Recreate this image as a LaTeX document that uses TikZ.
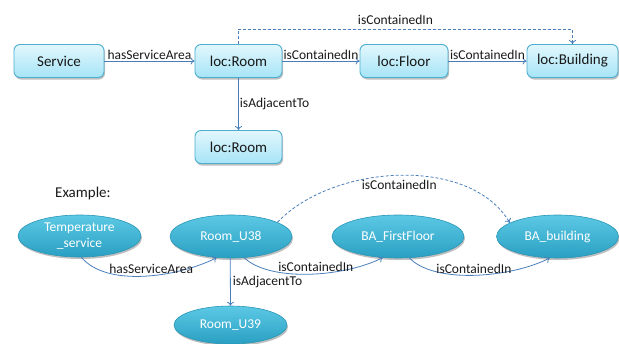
\documentclass[tikz,border=0pt]{standalone}
\usepackage{fontspec}
\setmainfont{Carlito}
\usetikzlibrary{arrows.meta,shapes.geometric,shadows}
\definecolor{linec}{HTML}{4A7EBB}
\definecolor{boxtop}{HTML}{E2F7FD}
\definecolor{boxbot}{HTML}{A6E4F6}
\definecolor{boxedge}{HTML}{4DAECF}
\definecolor{elltop}{HTML}{5CC9E5}
\definecolor{ellbot}{HTML}{2A9FC2}
\definecolor{elledge}{HTML}{2896B6}
\tikzset{
  classbox/.style={rectangle, rounded corners=6pt, draw=boxedge, line width=0.9pt,
    top color=boxtop, bottom color=boxbot, minimum height=33pt, inner sep=0pt,
    font=\fontsize{15}{18}\selectfont, text=black!90,
    drop shadow={shadow xshift=1pt, shadow yshift=-2pt, opacity=0.25, fill=black}},
  inst/.style={ellipse, draw=elledge, line width=0.6pt, top color=elltop, bottom color=ellbot,
    inner sep=0pt, text=white, align=center,
    font=\fontsize{13.5}{16}\selectfont,
    drop shadow={shadow xshift=1pt, shadow yshift=-2pt, opacity=0.25, fill=black}},
  rel/.style={draw=linec, line width=0.8pt, -{To[length=4pt,width=7pt]}},
  reldash/.style={rel, dash pattern=on 3pt off 2pt},
  lbl/.style={font=\fontsize{13.5}{16}\selectfont, text=black!90, inner sep=1.5pt}
}
\begin{document}
\begin{tikzpicture}[x=1pt,y=-1pt]
\useasboundingbox (0,0) rectangle (619,343);
% top schema
\node[classbox, minimum width=90pt] (service) at (59,61) {Service};
\node[classbox, minimum width=87pt] (room1) at (238.5,61) {loc:Room};
\node[classbox, minimum width=87pt] (room2) at (238.5,147) {loc:Room};
\node[classbox, minimum width=88pt] (floor) at (404,61) {loc:Floor};
\node[classbox, minimum width=91pt] (building) at (572.5,61) {loc:Building};

\draw[rel] (service) -- node[lbl, above] {hasServiceArea} (room1);
\draw[rel] (room1) -- node[lbl, above] {isContainedIn} (floor);
\draw[rel] (floor) -- node[lbl, above] {isContainedIn} (building);
\draw[rel] (room1) -- node[lbl, right, inner sep=1pt] {isAdjacentTo} (room2);
\coordinate (topline) at (0,29);
\draw[reldash] (room1.north) -- (room1.north |- topline) -- node[lbl, above, pos=0.47, yshift=3pt] {isContainedIn} (building.north |- topline) -- (building.north);

% example
\node[anchor=west, font=\fontsize{15}{18}\selectfont, text=black!90, inner sep=0pt] (example) at (55,193) {Example:};
\node[inst, minimum width=123pt, minimum height=42pt] (temp) at (79.5,236) {Temperature\\\_service};
\node[inst, minimum width=122pt, minimum height=43pt] (u38) at (231,236.5) {Room\_U38};
\node[inst, minimum width=113pt, minimum height=38pt] (u39) at (230.5,325) {Room\_U39};
\node[inst, minimum width=132pt, minimum height=43pt] (ff) at (398,236.5) {BA\_FirstFloor};
\node[inst, minimum width=122pt, minimum height=43pt] (bab) at (557.5,236.5) {BA\_building};

\draw[rel] (temp.-85) .. controls +(25,30) and +(-40,20) .. node[lbl, above, pos=0.55] {hasServiceArea} (u38.236);
\draw[rel] (u38.-58) .. controls +(25,24) and +(-40,20) .. node[lbl, above, pos=0.55] {isContainedIn} (ff.234);
\draw[rel] (ff.-62) .. controls +(25,26) and +(-40,20) .. node[lbl, above, pos=0.5] {isContainedIn} (bab.250);
\draw[rel] (u38.-92) -- node[lbl, right, inner sep=2pt] {isAdjacentTo} (u39.north);
\draw[reldash] (u38.17) .. controls +(55,-58) and +(-40,-68) .. node[lbl, below, pos=0.5, yshift=-3pt] {isContainedIn} (bab.164);
\end{tikzpicture}
\end{document}
